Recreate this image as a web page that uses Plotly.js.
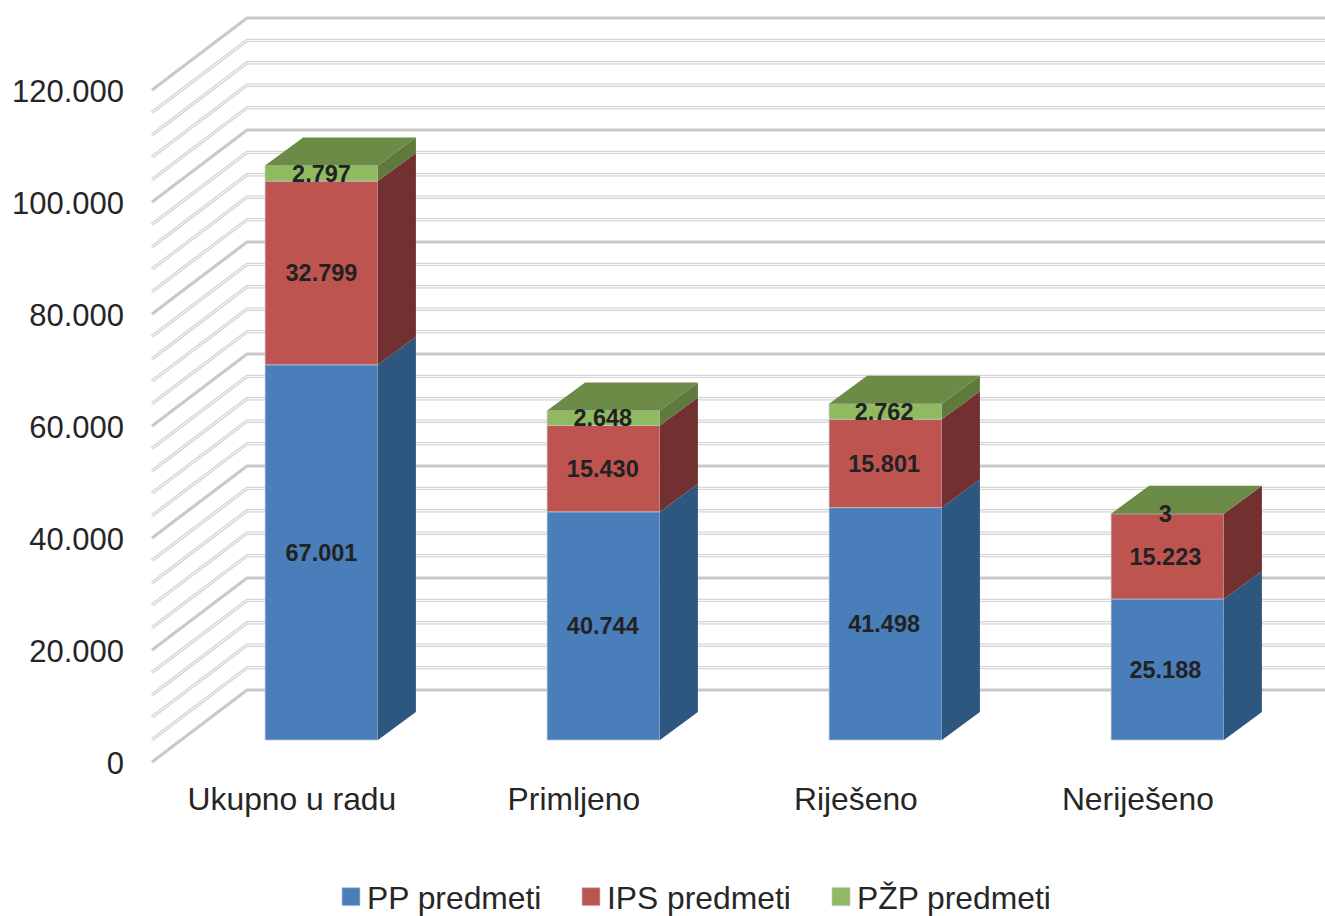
<!DOCTYPE html>
<html><head><meta charset="utf-8">
<script src="https://cdn.plot.ly/plotly-3.0.1.min.js"></script>
<style>html,body{margin:0;padding:0;background:#fff;overflow:hidden}#c{width:1325px;height:916px}</style>
</head><body><div id="c"></div>
<script>
const categories = ["Ukupno u radu","Primljeno","Riješeno","Neriješeno"];
const ppValues  = [67001,40744,41498,25188];
const ipsValues = [32799,15430,15801,15223];
const pzpValues = [2797,2648,2762,3];
const yTickValues = [0,20000,40000,60000,80000,100000,120000];
const yTickLabels = ["0","20.000","40.000","60.000","80.000","100.000","120.000"];
const gridStep = 4000, gridMax = 120000;

const FONT = '"Liberation Sans", Arial, sans-serif', INK = '#262626';
// oblique projection, in data units
const halfW = 0.2, depthX = 0.1348, depthY = 5000;
const wallFrontY = -3929, wallBackY = 8929, wallFrontX = -0.601, wallBackX = -0.2642;
const xRange = [-0.6968, 3.5585], yRange = [-6250, 132143];
const labelDrop = 450, tickDrop = 180, labelPitch = 0.9975;
const fmt = v => String(v).replace(/\B(?=(\d{3})+$)/g, '.');

const traces = [];
// walls and gridlines
for (let v = 0; v <= gridMax; v += gridStep) {
  const major = v % 20000 === 0;
  const xs = [wallFrontX, wallBackX, xRange[1]];
  const ys = [v + wallFrontY, v + wallBackY, v + wallBackY];
  traces.push({type:'scatter',mode:'lines',x:xs,y:ys,showlegend:false,hoverinfo:'skip',
    line:{color: major ? '#c9c9c9' : '#d4d4d4', width: major ? 3.2 : 3.4}});
  if (!major) traces.push({type:'scatter',mode:'lines',x:xs,y:ys,showlegend:false,hoverinfo:'skip',
    line:{color:'#ffffff', width:1}});
}
// stacked series
const series = [
  {name:'PP predmeti',  vals:ppValues,  front:'#4A7EBB', side:'#2E5780'},
  {name:'IPS predmeti', vals:ipsValues, front:'#BE5450', side:'#733030'},
  {name:'PŽP predmeti', vals:pzpValues, front:'#8FBA60', side:'#5F7A3C'}
];
const base = categories.map(() => 0);
const labelX = [], labelY = [], labelT = [];
const xIdx = categories.map((_, i) => i);
series.forEach(s => {
  traces.push({type:'bar',name:s.name,x:xIdx,y:s.vals,base:base.slice(),width:0.4,xaxis:'x2',yaxis:'y2',
    marker:{color:s.front,line:{color:'rgba(190,200,210,0.7)',width:1}},hoverinfo:'y'});
  const sx = [], sy = [];
  s.vals.forEach((v, i) => {
    const r = i + halfW, b = base[i], t = b + v;
    sx.push(r, r + depthX, r + depthX, r, r, null);
    sy.push(b, b + depthY, t + depthY, t, b, null);
    labelX.push(i * labelPitch); labelY.push(b + v / 2 - labelDrop); labelT.push(fmt(v));
    base[i] = t;
  });
  traces.push({type:'scatter',mode:'lines',x:sx,y:sy,fill:'toself',fillcolor:s.side,
    line:{width:0,color:s.side},xaxis:'x2',yaxis:'y2',showlegend:false,hoverinfo:'skip'});
});
// top faces
const tx = [], ty = [];
base.forEach((t, i) => {
  tx.push(i - halfW, i + halfW, i + halfW + depthX, i - halfW + depthX, i - halfW, null);
  ty.push(t, t, t + depthY, t + depthY, t, null);
});
traces.push({type:'scatter',mode:'lines',x:tx,y:ty,fill:'toself',fillcolor:'#6C8B47',
  line:{width:0,color:'#6C8B47'},xaxis:'x2',yaxis:'y2',showlegend:false,hoverinfo:'skip'});
// data labels
traces.push({type:'scatter',mode:'text',x:labelX,y:labelY,text:labelT,textposition:'middle center',
  textfont:{family:FONT,size:23.5,color:'#222222',weight:700},xaxis:'x2',yaxis:'y2',showlegend:false,hoverinfo:'skip',cliponaxis:false});

const layout = {
  width:1325,height:916,autosize:false,
  margin:{l:125,r:0,t:0,b:0,pad:0},
  paper_bgcolor:'#fff',plot_bgcolor:'rgba(0,0,0,0)',
  barmode:'overlay',showlegend:true,
  font:{family:FONT,color:INK},
  xaxis:{range:xRange,tickmode:'array',tickvals:xIdx.map(i => i - 0.105),ticktext:categories,ticklabelstandoff:2,
    showgrid:false,zeroline:false,showline:false,ticks:'',tickangle:0,tickfont:{size:31.8,color:INK,family:FONT}},
  yaxis:{domain:[141/916,1],range:yRange,tickmode:'array',tickvals:yTickValues.map(v => v + wallFrontY - tickDrop),ticktext:yTickLabels,
    showgrid:false,zeroline:false,showline:false,ticks:'',tickfont:{size:31,color:INK,family:FONT}},
  xaxis2:{range:xRange,overlaying:'x',visible:false},
  yaxis2:{domain:[141/916,1],range:yRange,overlaying:'y',visible:false},
  legend:{orientation:'h',x:(327-125)/1200,xanchor:'left',y:0.06,yanchor:'middle',
    font:{size:31.8,family:FONT,color:INK},bgcolor:'rgba(0,0,0,0)',traceorder:'normal'}
};
const legendSteps = [0,240,490];
const legendDrop = 897 - (916 - 0.06 * 916);
Plotly.newPlot('c',traces,layout,{displayModeBar:false,staticPlot:true}).then(gd => {
  const box = gd.querySelector('.legend .scrollbox');
  if (box) box.removeAttribute('clip-path');
  const lg = gd.querySelector('.legend');
  const lm = /translate\(([-\d.]+)[ ,]+([-\d.]+)\)/.exec(lg.getAttribute('transform'));
  lg.setAttribute('transform', `translate(${lm[1]},${+lm[2] + legendDrop})`);
  const items = gd.querySelectorAll('.legend .traces');
  let x0 = null;
  items.forEach((g, i) => {
    const m = /translate\(([-\d.]+)[ ,]+([-\d.]+)\)/.exec(g.getAttribute('transform'));
    if (x0 === null) x0 = +m[1];
    g.setAttribute('transform', `translate(${x0 + legendSteps[i]},${m[2]})`);
    const p = g.querySelector('.legendpoints path');
    if (p) { p.setAttribute('d','M9,9H-9V-9H9Z'); p.setAttribute('transform','translate(24,0)'); }
  });
});
</script></body></html>
